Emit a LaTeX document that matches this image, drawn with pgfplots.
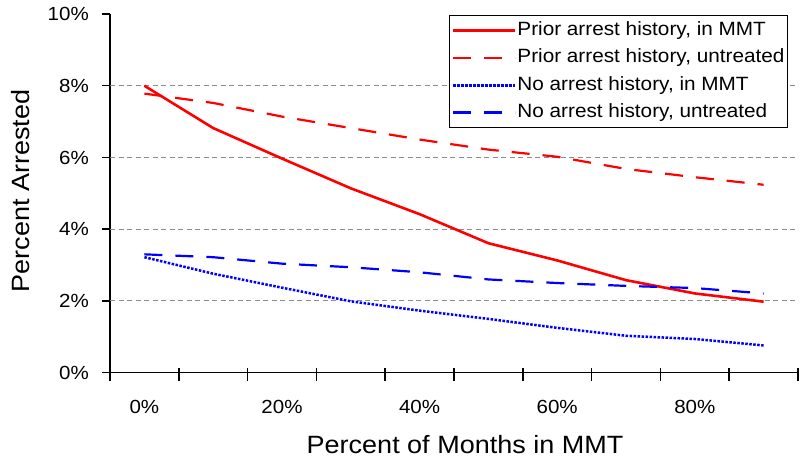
\documentclass[border=0pt]{standalone}
\usepackage{fontspec}
\setmainfont{Liberation Sans}[FakeStretch=1.08]
\usepackage{pgfplots}
\pgfplotsset{compat=1.18}
\usepackage{pgfplotstable}

\pgfplotstableread{
x  ps   pu   ns   nu
0  8.00 7.78 3.22 3.30
10 6.82 7.52 2.76 3.22
20 5.97 7.14 2.37 3.04
30 5.14 6.82 1.99 2.94
40 4.42 6.50 1.73 2.80
50 3.61 6.22 1.50 2.60
60 3.13 6.02 1.25 2.50
70 2.58 5.68 1.03 2.42
80 2.21 5.45 0.94 2.36
90 1.98 5.24 0.76 2.21
}\data

\definecolor{gridgray}{RGB}{140,140,140}
\definecolor{xlred}{RGB}{255,0,0}
\definecolor{xlblue}{RGB}{0,0,255}

\begin{document}
\begin{tikzpicture}
\path[use as bounding box] (0,0) rectangle (800pt,464pt);
\begin{axis}[
  at={(110pt,91.3pt)}, anchor=south west,
  scale only axis, width=688pt, height=358.7pt,
  xmin=-5, xmax=95, ymin=0, ymax=10,
  axis x line*=bottom, axis y line*=left,
  axis line style={-, line width=1.5pt, black},
  ytick={0,2,4,6,8,10},
  yticklabels={0\%,2\%,4\%,6\%,8\%,10\%},
  xtick={0,20,40,60,80},
  xticklabels={0\%,20\%,40\%,60\%,80\%},
  minor xtick={-5,5,15,25,35,45,55,65,75,85,95},
  tick align=outside,
  major tick length=8pt,
  minor tick length=13pt,
  major x tick style={draw=none},
  minor x tick style={yshift=5pt, line width=1.5pt, black},
  major y tick style={line width=1.5pt, black},
  extra y ticks={2,4,6,8},
  extra y tick labels={},
  extra y tick style={grid=major, major y tick style={draw=none}},
  major grid style={dash pattern=on 5pt off 3.5pt, gridgray, line width=1pt},
  ticklabel style={font=\fontsize{19}{22}\selectfont},
  xticklabel style={anchor=north, inner sep=0pt, yshift=-19pt},
  yticklabel style={anchor=east, inner sep=0pt, xshift=-13pt},
  xlabel={Percent of Months in MMT},
  ylabel={Percent Arrested},
  label style={font=\fontsize{25}{30}\selectfont},
  xlabel style={at={(axis description cs:0.516,-0.224)}, anchor=base},
  ylabel style={at={(axis description cs:-0.117,0.507)}, anchor=base},
  legend style={at={(rel axis cs:0.9855,0.997)}, anchor=north east,
    draw=black, line width=1.2pt, fill=white,
    inner xsep=2pt, inner ysep=5pt,
    font=\fontsize{19.2}{22}\selectfont,
    row sep=7.3pt,
    nodes={inner sep=1pt, text height=14pt, text depth=4pt},
    cells={anchor=west},
    /tikz/every even column/.append style={column sep=3pt}},
  legend image code/.code={\draw[#1] (0pt,0pt) -- (62pt,0pt);},
]
\addplot[xlred, line width=2.6pt] table[x=x, y=ps] {\data};
\addlegendentry{Prior arrest history, in MMT}
\addplot[xlred, line width=2.2pt, dash pattern=on 18pt off 13pt] table[x=x, y=pu] {\data};
\addlegendentry{Prior arrest history, untreated}
\addplot[xlblue, line width=2.5pt, dash pattern=on 2.5pt off 1.5pt] table[x=x, y=ns] {\data};
\addlegendentry{No arrest history, in MMT}
\addplot[xlblue, line width=2.2pt, dash pattern=on 18pt off 13pt] table[x=x, y=nu] {\data};
\addlegendentry{No arrest history, untreated}
\end{axis}
\end{tikzpicture}
\end{document}
